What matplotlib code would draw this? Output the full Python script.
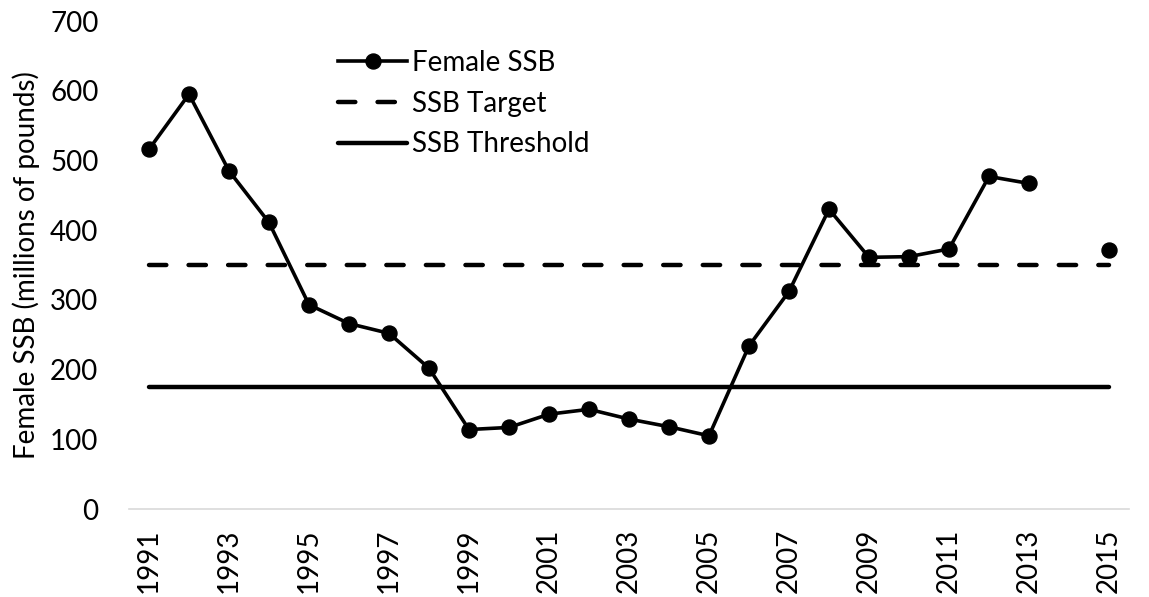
import numpy as np
import matplotlib
matplotlib.use("Agg")
import matplotlib.pyplot as plt

years = list(range(1991, 2016))
female_ssb = [516, 595, 485, 411, 293, 266, 252, 202, 114, 117, 136, 143,
              129, 118, 105, 234, 312, 430, 361, 362, 373, 477, 467, np.nan, 372]
ssb_target = [350] * len(years)
ssb_threshold = [175] * len(years)
tick_years = years[::2]

plt.rcParams["font.family"] = ["Lato", "DejaVu Sans"]
plt.rcParams["font.size"] = 20

fig = plt.figure(figsize=(11.49, 5.97), dpi=100)
ax = fig.add_axes([129 / 1149, 1 - 509 / 597, 1000 / 1149, 488 / 597])

x = np.arange(len(years))
ax.plot(x, female_ssb, color="black", lw=2.6, marker="o", ms=10.8,
        label="Female SSB", zorder=3)
ax.plot(x, ssb_target, color="black", lw=3.2, dashes=(3.9, 5.0),
        dash_capstyle="round", label="SSB Target")
ax.plot(x, ssb_threshold, color="black", lw=3.2, solid_capstyle="round",
        label="SSB Threshold")

ax.set_xlim(-0.5, len(years) - 0.5)
ax.set_ylim(0, 700)
ax.set_yticks(range(0, 701, 100))
ax.set_xticks([years.index(y) for y in tick_years])
ax.set_xticklabels([str(y) for y in tick_years], rotation=90)
ax.tick_params(axis="x", length=0, pad=14)
ax.tick_params(axis="y", length=0, pad=22)

for side in ("top", "right", "left"):
    ax.spines[side].set_visible(False)
ax.spines["bottom"].set_color("#d9d9d9")
ax.spines["bottom"].set_linewidth(1.2)

ax.set_ylabel("Female SSB (millions of pounds)", labelpad=7)

ax.legend(loc="upper left", bbox_to_anchor=(338 / 1149, 1 - 50 / 597),
          bbox_transform=fig.transFigure, frameon=False, borderpad=0,
          borderaxespad=0, handlelength=2.5, handletextpad=0.15,
          labelspacing=0.53)

fig.savefig("out.png", dpi=100)
